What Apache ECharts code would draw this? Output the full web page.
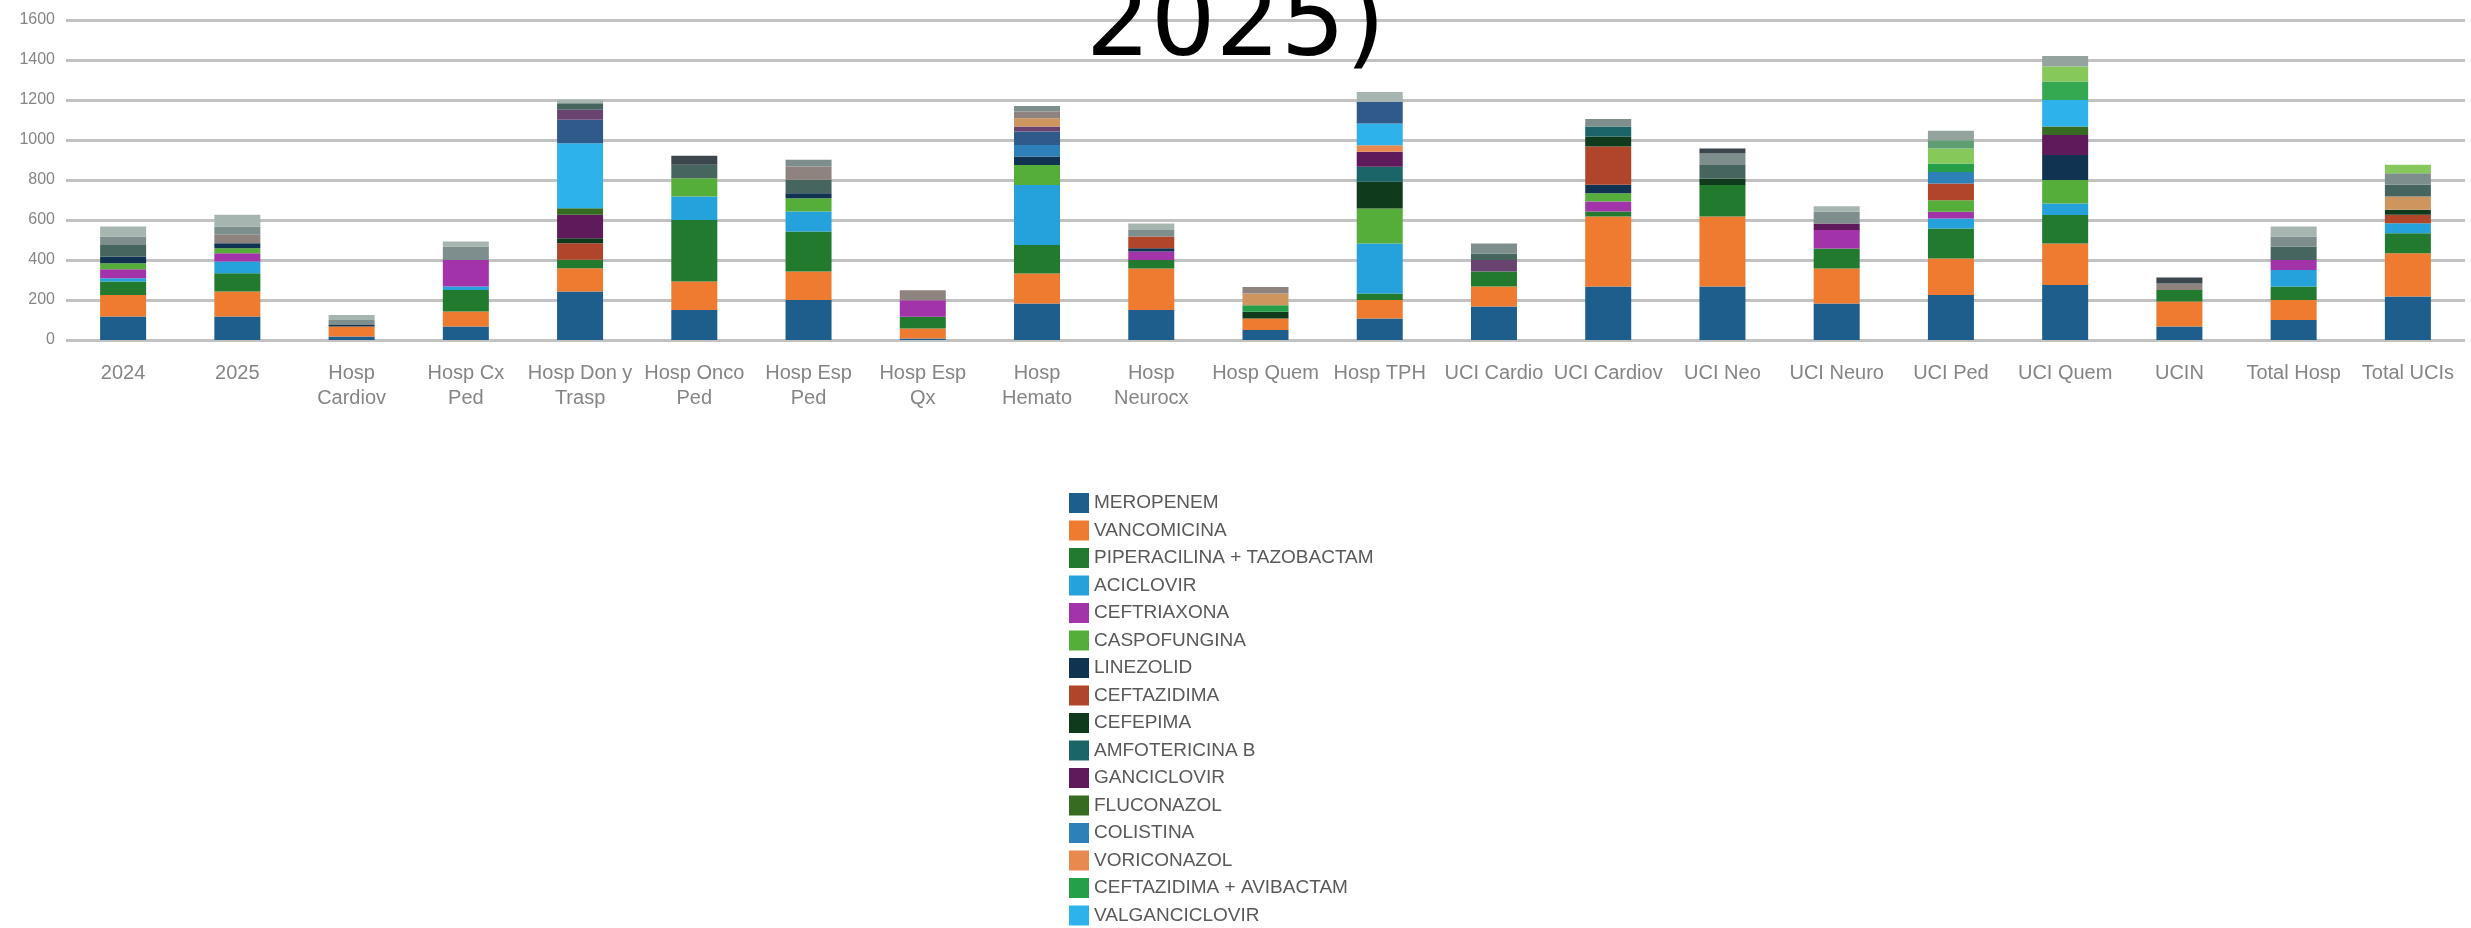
<!DOCTYPE html>
<html>
<head>
<meta charset="utf-8">
<script src="https://cdn.jsdelivr.net/npm/echarts@6/dist/echarts.min.js"></script>
<style>
html,body{margin:0;padding:0;background:#fff;}
#chart{width:2471px;height:928px;}
</style>
</head>
<body>
<div id="chart"></div>
<script>
// Categories (x axis)
const categories = ["2024","2025","Hosp\nCardiov","Hosp Cx\nPed","Hosp Don y\nTrasp","Hosp Onco\nPed","Hosp Esp\nPed","Hosp Esp\nQx","Hosp\nHemato","Hosp\nNeurocx","Hosp Quem","Hosp TPH","UCI Cardio","UCI Cardiov","UCI Neo","UCI Neuro","UCI Ped","UCI Quem","UCIN","Total Hosp","Total UCIs"];

// Y axis ticks
const yTicks = [0,200,400,600,800,1000,1200,1400,1600];

// Series values, one array per drug
const MEROPENEM      = [117,117,17,67,242,150,200,8,183,150,50,108,167,267,267,183,225,275,67,100,217];
const VANCOMICINA    = [108,125,50,75,117,142,142,50,150,208,58,92,100,350,350,175,183,208,125,100,217];
const PIPERACILINA   = [67,92,0,108,42,308,200,58,142,42,0,33,75,25,158,100,150,142,58,67,100];
const ACICLOVIR      = [17,58,0,17,0,117,100,0,300,0,0,250,0,0,0,0,50,58,0,83,50];
const CEFTRIAXONA    = [45,42,0,133,0,0,0,83,0,42,0,0,0,50,0,92,33,0,0,50,0];
const CASPOFUNGINA   = [30,25,0,0,0,92,67,0,100,0,0,175,0,42,0,0,58,117,0,0,0];
const LINEZOLID      = [33,25,8,0,0,0,25,0,42,17,0,0,0,42,0,0,0,125,0,0,0];
const CEFTAZIDIMA    = [0,0,0,0,83,0,0,0,0,58,0,0,0,192,0,0,83,0,0,0,42];
const CEFEPIMA       = [0,0,0,0,25,0,0,0,0,0,33,133,0,50,33,0,0,0,0,0,25];
const AMFOTERICINA_B = [0,0,0,0,0,0,0,0,0,0,0,75,0,50,0,0,0,0,0,0,0];
const GANCICLOVIR    = [0,0,0,0,117,0,0,0,0,0,0,75,0,0,0,33,0,100,0,0,0];
const FLUCONAZOL     = [0,0,0,0,33,0,0,0,0,0,0,0,0,0,0,0,0,42,0,0,0];
const COLISTINA      = [0,0,0,0,0,0,0,0,58,0,0,0,0,0,0,0,58,0,0,0,0];
const VORICONAZOL    = [0,0,0,0,0,0,0,0,0,0,0,33,0,0,0,0,0,0,0,0,0];
const CEFTAZ_AVIB    = [0,0,0,0,0,0,0,0,0,0,33,0,0,0,0,0,42,0,0,0,0];
const VALGANCICLOVIR = [0,0,0,0,325,0,0,0,0,0,0,108,0,0,0,0,0,133,0,0,0];
// Further series whose legend entries fall below the visible area
const SERIE_17 = [0,0,0,0,117,0,0,0,67,0,0,108,0,0,0,0,0,0,0,0,0];
const SERIE_18 = [0,0,0,0,50,0,0,0,25,0,0,0,58,0,0,0,0,0,0,0,0];
const SERIE_19 = [0,0,0,0,0,0,0,0,42,0,58,0,0,0,0,0,0,0,0,0,67];
const SERIE_20 = [58,0,0,0,33,67,67,0,0,0,0,0,33,0,67,0,0,0,0,67,58];
const SERIE_21 = [0,42,0,0,0,0,67,50,33,0,33,0,0,0,0,0,0,0,33,0,0];
const SERIE_22 = [42,42,25,67,0,0,33,0,28,33,0,0,50,37,58,58,0,0,0,50,58];
const SERIE_23 = [50,58,25,25,17,0,0,0,0,33,0,50,0,0,0,28,0,0,0,50,0];
const SERIE_24 = [0,0,0,0,0,45,0,0,0,0,0,0,0,0,25,0,0,0,30,0,0];
const SERIE_25 = [0,0,0,0,0,0,0,0,0,0,0,0,0,0,0,0,0,92,0,0,0];
const SERIE_26 = [0,0,0,0,0,0,0,0,0,0,0,0,0,0,0,0,75,75,0,0,42];
const SERIE_27 = [0,0,0,0,0,0,0,0,0,0,0,0,0,0,0,0,42,0,0,0,0];
const SERIE_28 = [0,0,0,0,0,0,0,0,0,0,0,0,0,0,0,0,47,53,0,0,0];

const seriesNames = ["MEROPENEM","VANCOMICINA","PIPERACILINA + TAZOBACTAM","ACICLOVIR","CEFTRIAXONA","CASPOFUNGINA","LINEZOLID","CEFTAZIDIMA","CEFEPIMA","AMFOTERICINA B","GANCICLOVIR","FLUCONAZOL","COLISTINA","VORICONAZOL","CEFTAZIDIMA + AVIBACTAM","VALGANCICLOVIR",
  "Serie 17","Serie 18","Serie 19","Serie 20","Serie 21","Serie 22","Serie 23","Serie 24","Serie 25","Serie 26","Serie 27","Serie 28"];
const seriesValues = [MEROPENEM,VANCOMICINA,PIPERACILINA,ACICLOVIR,CEFTRIAXONA,CASPOFUNGINA,LINEZOLID,CEFTAZIDIMA,CEFEPIMA,AMFOTERICINA_B,GANCICLOVIR,FLUCONAZOL,COLISTINA,VORICONAZOL,CEFTAZ_AVIB,VALGANCICLOVIR,
  SERIE_17,SERIE_18,SERIE_19,SERIE_20,SERIE_21,SERIE_22,SERIE_23,SERIE_24,SERIE_25,SERIE_26,SERIE_27,SERIE_28];
const legendNames = seriesNames.slice(0,16);

const colors = ["#1D5E8C","#EE7B30","#217A2D","#25A2DC","#A233A8","#56AE3A","#0F3350","#B0452A","#0F3A1C","#1B6468","#5E1A5A","#386B22","#2E80B8","#E88A50","#25A048","#2DB2EC",
  "#2F5A8A","#6A4470","#CF955E","#46655F","#8E837E","#7E8E8C","#A7B5B1","#3B474C","#35A852","#86C95A","#5E9E72","#95A39E"];

const chart = echarts.init(document.getElementById('chart'), null, {renderer:'canvas'});
const sans = "'Liberation Sans', Arial, sans-serif";
chart.setOption({
  animation: false,
  backgroundColor: '#ffffff',
  color: colors,
  title: {
    text: '2025)',
    left: 'center',
    top: -23,
    padding: 0,
    textStyle: {fontFamily: "'DejaVu Sans', sans-serif", fontSize: 102, fontWeight: 'normal', color: '#000000'}
  },
  legend: {
    data: legendNames,
    orient: 'vertical',
    left: 1069,
    top: 493,
    padding: 0,
    itemWidth: 20,
    itemHeight: 20,
    itemGap: 7.5,
    icon: 'rect',
    textStyle: {fontFamily: sans, fontSize: 19, color: '#595959'}
  },
  grid: {left: 66, right: 6, top: 20, bottom: 588, containLabel: false},
  xAxis: {
    type: 'category',
    data: categories,
    axisLine: {show: false},
    axisTick: {show: false},
    axisLabel: {interval: 0, margin: 21, fontFamily: sans, fontSize: 20, color: '#858585', lineHeight: 25}
  },
  yAxis: {
    type: 'value',
    min: yTicks[0],
    max: yTicks[yTicks.length-1],
    interval: yTicks[1]-yTicks[0],
    axisLine: {show: false},
    axisTick: {show: false},
    axisLabel: {margin: 11, fontFamily: sans, fontSize: 16, color: '#858585', formatter: v => String(v)},
    splitLine: {lineStyle: {color: '#C2C2C2', width: 3}}
  },
  series: seriesNames.map((n, i) => ({
    name: n,
    type: 'bar',
    stack: 'total',
    barWidth: 46,
    data: seriesValues[i],
    itemStyle: {color: colors[i]}
  }))
});
</script>
</body>
</html>
